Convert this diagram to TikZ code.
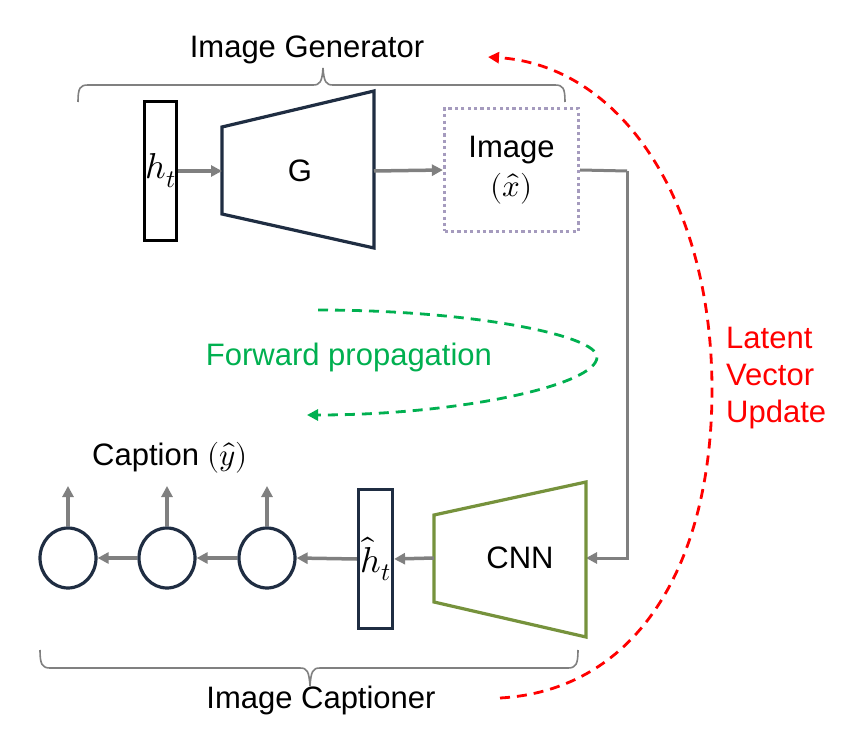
\documentclass[tikz,border=0pt]{standalone}
\usepackage{fontspec}
\usepackage{unicode-math}
\setmainfont{Liberation Sans}
\setmathfont{Latin Modern Math}
\usetikzlibrary{arrows.meta,shapes.geometric}
\definecolor{navy}{RGB}{31,45,66}
\definecolor{olivegr}{RGB}{118,146,60}
\definecolor{arrowgray}{RGB}{128,128,128}
\definecolor{lav}{RGB}{165,155,190}
\definecolor{fgreen}{RGB}{0,176,80}
\definecolor{lred}{RGB}{255,0,0}
\begin{document}
\begin{tikzpicture}[x=1pt,y=-1pt,
  lbl/.style={font=\fontsize{31}{37}\selectfont, inner sep=0pt},
  garrow/.style={draw=arrowgray, line width=3.5pt, -{Triangle[length=11pt,width=11pt]}},
  gline/.style={draw=arrowgray, line width=3pt},
  vbox/.style={draw, line width=3.2pt, inner sep=0pt, minimum width=32pt, minimum height=139pt, font=\fontsize{36}{40}\selectfont},
  cell/.style={ellipse, draw=navy, line width=3.2pt, minimum width=56pt, minimum height=60pt, inner sep=0pt},
  brace/.style={draw=arrowgray, line width=1.6pt},
  dashgreen/.style={draw=fgreen, line width=2.8pt, dash pattern=on 10pt off 7pt, -{Triangle[length=11pt,width=11pt]}},
  dashred/.style={draw=lred, line width=2.8pt, dash pattern=on 10pt off 7pt, -{Triangle[length=11pt,width=11pt]}}
]
\useasboundingbox[fill=white] (0,0) rectangle (852,746);

% ---------- Image generator ----------
\node[lbl, anchor=base] (gentitle) at (307,58) {Image Generator};
\draw[brace] (78,102) .. controls (78,88) and (80,85) .. (88,85) -- (313,85)
  .. controls (320,85) and (322,82) .. (323,68)
  .. controls (324,82) and (326,85) .. (333,85) -- (555,85)
  .. controls (563,85) and (565,88) .. (565,102);

\node[vbox, draw=black, minimum width=32pt] (ht) at (160.5,171) {$h_t$};

\draw[navy, line width=3.2pt] (222,127) -- (374,91) -- (374,248) -- (222,214) -- cycle;
\coordinate (Gin) at (222,171);
\coordinate (Gout) at (374,171);
\node[lbl] (Gtxt) at (300,171) {G};

\node[draw=lav, line width=3.2pt, dash pattern=on 3.2pt off 3.2pt, minimum width=134pt, minimum height=123pt, inner sep=0pt, align=center, font=\fontsize{31}{39}\selectfont] (img) at (511.5,170) {Image\\$(\hat{x})$};

\draw[garrow] (ht.east) -- (Gin);
\draw[garrow] (Gout) -- (img.west);

% ---------- connection to captioner ----------
\coordinate (corner) at (627,171);
\coordinate (CNNout) at (586,558);
\draw[gline] (img.east) -- (corner);
\draw[garrow, line width=3pt] (corner) |- (CNNout);

% ---------- Image captioner ----------
\draw[olivegr, line width=3.2pt] (434,515) -- (586,482) -- (586,637) -- (434,602) -- cycle;
\coordinate (CNNin) at (434,558);
\node[lbl] (cnntxt) at (520,558) {CNN};

\node[vbox, draw=navy, minimum width=34pt] (hh) at (375.5,559) {$\hat{h}_t$};
\draw[garrow] (CNNin) -- (hh.east);

\node[cell] (c1) at (68,558) {};
\node[cell] (c2) at (167,558) {};
\node[cell] (c3) at (267,558) {};
\draw[garrow] (hh.west) -- (c3.east);
\draw[garrow] (c3.west) -- (c2.east);
\draw[garrow] (c2.west) -- (c1.east);
\coordinate (o1) at (68,486);
\coordinate (o2) at (167,486);
\coordinate (o3) at (267,486);
\draw[garrow] (c1.north) -- (o1);
\draw[garrow] (c2.north) -- (o2);
\draw[garrow] (c3.north) -- (o3);

\node[lbl] (captxt) at (170,458) {Caption $(\hat{y})$};

\draw[brace] (40,650) .. controls (40,664) and (42,668) .. (50,668) -- (300,668)
  .. controls (307,668) and (309,671) .. (310,686)
  .. controls (311,671) and (313,668) .. (320,668) -- (568,668)
  .. controls (576,668) and (578,664) .. (578,650);
\node[lbl, anchor=base] (captitle) at (321,708) {Image Captioner};

% ---------- Forward propagation ----------
\coordinate (fpstart) at (318,310);
\coordinate (fptip) at (597,357);
\coordinate (fpend) at (307,415);
\draw[dashgreen] (fpstart) .. controls (470,310) and (597,335) .. (fptip)
  .. controls (597,385) and (460,415) .. (fpend);
\node[lbl, text=fgreen] (fptxt) at (349,357) {Forward propagation};

% ---------- Latent vector update ----------
\coordinate (lvstart) at (500,698);
\coordinate (lvmid) at (712,390);
\coordinate (lvend) at (488,57);
\draw[dashred] (lvstart) .. controls (640,690) and (712,560) .. (lvmid)
  .. controls (712,200) and (620,65) .. (lvend);
\node[lbl, text=lred, align=left, anchor=west] (lvtxt) at (726,378) {Latent\\Vector\\Update};
\end{tikzpicture}
\end{document}
